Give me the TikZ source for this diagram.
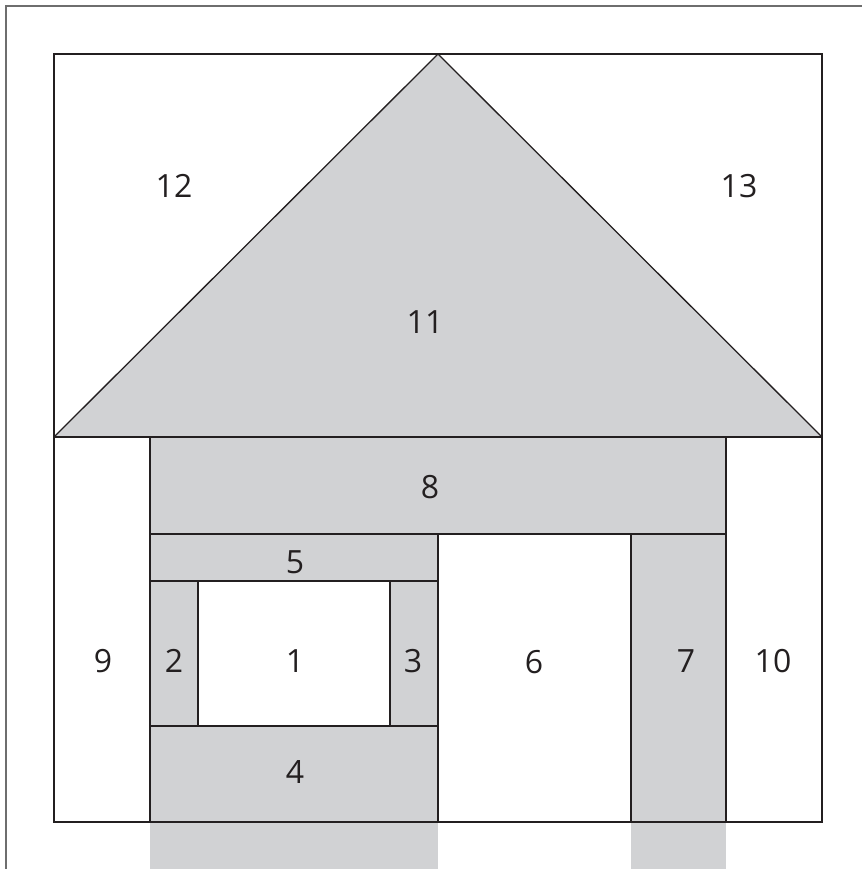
\documentclass[tikz,border=0pt]{standalone}
\usepackage{fontspec}
\setmainfont{Open Sans}
\definecolor{wallgrey}{HTML}{D1D2D4}
\definecolor{lineink}{HTML}{231F20}
\definecolor{framegrey}{HTML}{6E6E6E}
\begin{document}
\begin{tikzpicture}[x=1pt,y=-1pt,
  part/.style={fill=wallgrey},
  edge/.style={draw=lineink,line width=1.3pt,line join=miter},
  lbl/.style={font=\fontsize{32}{32}\selectfont,text=lineink,inner sep=0pt}]
\useasboundingbox (0,0) rectangle (862,869);
% grey fills
\fill[part] (54,437) -- (438,54) -- (822,437) -- cycle;
\fill[part] (150,437) rectangle (726,534);
\fill[part] (150,534) rectangle (438,581);
\fill[part] (150,581) rectangle (198,726);
\fill[part] (390,581) rectangle (438,726);
\fill[part] (150,726) rectangle (438,869);
\fill[part] (631,534) rectangle (726,869);
% outer frame
\draw[framegrey,line width=1.2pt] (6,869) -- (6,6) -- (862,6);
% lines
\draw[edge] (54,54) rectangle (822,822);
\draw[edge] (54,437) -- (438,54) -- (822,437);
\draw[edge] (54,437) -- (822,437);
\draw[edge] (150,437) -- (150,822);
\draw[edge] (726,437) -- (726,822);
\draw[edge] (150,534) -- (726,534);
\draw[edge] (438,534) -- (438,822);
\draw[edge] (150,581) -- (438,581);
\draw[edge] (198,581) -- (198,726);
\draw[edge] (390,581) -- (390,726);
\draw[edge] (150,726) -- (438,726);
\draw[edge] (631,534) -- (631,822);
% labels
\node[lbl] (l12) at (174,186) {12};
\node[lbl] (l13) at (739,186) {13};
\node[lbl] (l11) at (425,322) {11};
\node[lbl] (l8) at (430,487) {8};
\node[lbl] (l5) at (295,562) {5};
\node[lbl] (l9) at (103,661) {9};
\node[lbl] (l2) at (174,661) {2};
\node[lbl] (l1) at (295,661) {1};
\node[lbl] (l3) at (413,661) {3};
\node[lbl] (l6) at (534,662) {6};
\node[lbl] (l7) at (686,661) {7};
\node[lbl] (l10) at (773,661) {10};
\node[lbl] (l4) at (295,772) {4};
\end{tikzpicture}
\end{document}
